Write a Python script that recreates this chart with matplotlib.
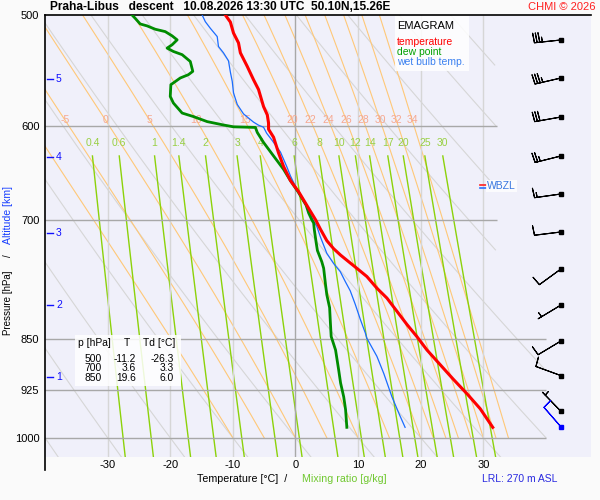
import numpy as np
import matplotlib
matplotlib.use("Agg")
import matplotlib.pyplot as plt
from matplotlib.patches import Rectangle
from matplotlib.lines import Line2D
from matplotlib.ticker import NullLocator

plt.rcParams['font.family'] = ['Liberation Sans', 'DejaVu Sans']

W, H = 600, 500

# sounding: pressure [hPa] / temperature [C]
t_pres = [500, 505.8, 515, 523.4, 532, 544, 556, 565, 581, 589, 597, 603, 611, 627, 641, 656,
          668, 683, 699.4, 710.6, 723.8, 733.5, 741.2, 749.3, 757.4, 767.7, 782.5, 795.3, 812.7,
          830.5, 847.3, 866, 887, 908.5, 930.5, 953.5, 983]
t_temp = [-11.2, -10.4, -9.9, -9.1, -8.8, -7.7, -6.7, -5.9, -5.1, -4.5, -4.3, -4.3, -3.5, -2.7, -1.9, -0.8,
          0.5, 1.8, 3.2, 4.0, 5.0, 6.1, 7.2, 8.5, 9.8, 11.4, 13.0, 14.6, 16.2,
          17.8, 19.4, 21.0, 23.1, 25.2, 27.4, 29.5, 31.5]

td_pres = [500, 502.7, 507.4, 509, 511.8, 513.8, 517.4, 520.8, 525, 527.9, 530.8, 533.6, 539.6, 548.4,
           551.4, 554.4, 560.5, 571.4, 577.6, 587.2, 590.6, 595.5, 598.8, 600.6, 601.2, 606.2, 616.2,
           630, 644, 655, 668, 683, 691.7, 699.4, 703.2, 710.6, 726, 735.6, 749.3, 757.4, 778.2,
           790.8, 807.9, 825.8, 847, 866, 895, 914, 935, 955, 983]
td_temp = [-26.1, -25.6, -24.8, -23.7, -22.4, -20.8, -19.7, -18.9, -19.7, -20.5, -19.5, -18.1, -16.8, -16.4,
           -17.1, -18.4, -19.9, -20.0, -19.5, -18.1, -16.3, -14.1, -11.5, -9.9, -6.4, -6.1, -5.1,
           -3.5, -1.9, -0.9, 0.4, 1.7, 2.1, 2.6, 2.9, 3.0, 3.3, 3.5, 4.2, 4.5, 4.8,
           5.0, 5.45, 5.56, 5.7, 6.4, 6.9, 7.2, 7.7, 8.0, 8.2]

tw_pres = [500, 505.5, 511, 518, 526.5, 532, 539, 549, 557.5, 568, 579, 588, 596, 599, 601, 607, 613.5,
           626, 641, 651, 668, 683, 699.4, 707, 719, 739, 751.6, 761.5, 774, 786, 803.6, 823.5, 842,
           849.5, 875, 900, 935, 965, 983]
tw_temp = [-14.9, -14.4, -13.6, -12.5, -12.3, -11.5, -10.7, -10.4, -10.1, -9.9, -9.3, -8.3, -6.7, -5.9, -5.1,
           -4.6, -3.8, -2.4, -1.4, -0.8, 0.4, 1.7, 2.8, 3.4, 3.96, 5.0, 6.1, 7.15, 7.95, 8.75, 9.55,
           10.35, 11.15, 11.4, 13.0, 14.1, 15.4, 16.7, 17.5]

tab_p = [500, 700, 850]
tab_t = [-11.2, 3.6, 19.6]
tab_td = [-26.3, 3.3, 6.0]

# winds every 0.5 km, speed in kt
wind_pres = [520.9, 554.4, 591.0, 630.0, 670.5, 713.6, 758.2, 804.4, 853.2, 903.1, 957.7]
wind_dir = [264, 257, 260, 256, 262, 263, 234, 239, 239, 290, 316]
wind_spd = [35, 35, 30, 25, 15, 10, 10, 5, 10, 10, 5]
sfc_pres = [983.1]
sfc_dir = [319]
sfc_spd = [10]

alt_km = [1, 2, 3, 4, 5]
alt_pres = [905, 804, 715, 631, 555]
wbzl_pres = 662

p_ticks = [500, 600, 700, 850, 925, 1000]
t_ticks = [-30, -20, -10, 0, 10, 20, 30]
theta_dry = list(range(-60, 160, 10))
theta_w = [-10, -5, 0, 5, 10, 15, 20, 22, 24, 26, 28, 30, 32, 34]
mix_ratio = [0.4, 0.6, 1, 1.4, 2, 3, 4, 6, 8, 10, 12, 14, 17, 20, 25, 30]
mix_labels = ['0.4', '0.6', '1', '1.4', '2', '3', '4', '6', '8', '10', '12', '14', '17', '20', '25', '30']


def es(tc):
    return 6.112 * np.exp(17.67 * tc / (tc + 243.5))


def lapse(tk, p):
    e = es(tk - 273.15)
    rs = 0.622 * e / (p - e)
    lv = 2.501e6
    return (287.04 * tk + lv * rs) / p / (1005.7 + lv * lv * rs * 0.622 / (287.04 * tk ** 2))


def moist(tw, pres):
    t = tw + 273.15
    out = [t]
    for i in range(1, len(pres)):
        dp = pres[i] - pres[i - 1]
        k1 = lapse(t, pres[i - 1])
        k2 = lapse(t + k1 * dp, pres[i])
        t = t + 0.5 * (k1 + k2) * dp
        out.append(t)
    return np.array(out) - 273.15


def clip(t, p):
    t = np.array(t, dtype=float)
    lim = np.where(p < 820, 32.1, 40.0)
    t[t > lim] = np.nan
    return t


def px2t(px):
    return (px - 295.5) / 6.262


fig = plt.figure(figsize=(6, 5), dpi=100, facecolor='#fafafa')
ax = fig.add_axes([45 / W, 43 / H, 546 / W, 442 / H])
ax.set_facecolor('#f0f0fa')
ax.set_yscale('log')
ax.set_ylim(1032, 500)
ax.set_xlim(-40, 47.19)

# dry adiabats
pp = np.linspace(1032, 500, 300)
for th in theta_dry:
    t = (th + 273.15) * (pp / 1000.0) ** 0.2857 - 273.15
    ax.plot(clip(t, pp), pp, color='#d6d6d6', lw=0.8, zorder=1)

# pseudo-adiabats
pm = np.linspace(1000, 500, 251)
for tw in theta_w:
    t = moist(tw, pm)
    ax.plot(clip(t, pm), pm, color='#ffc878', lw=0.8, zorder=1.2)
    if tw >= -5:
        tl = np.interp(594, pm[::-1], t[::-1])
        ax.text(tl, 594, str(tw), color='#f6a890', fontsize=7.5, ha='center', va='center', zorder=2)

# mixing ratio lines
pw = np.linspace(630, 1032, 120)
for w, lab in zip(mix_ratio, mix_labels):
    e = w * pw / (622.0 + w)
    l = np.log(e / 6.112)
    t = 243.5 * l / (17.67 - l)
    ax.plot(t, pw, color='#8cd20a', lw=1.0, zorder=1.4)
    ax.text(t[0], 617, lab, color='#99d044', fontsize=7.5, ha='center', va='center', zorder=2)

# grid
for p in p_ticks[1:]:
    ax.hlines(p, -40, 32.1 if p < 800 else 40.0, color='#a8a8a8', lw=1.0, zorder=1.6)
for t in t_ticks:
    ax.vlines(t, 500, 1032, color='#a8a8a8' if t == 0 else '#d6d6d6', lw=1.0, zorder=1.5)

# profiles
ax.plot(tw_temp, tw_pres, color='#1a6cff', lw=0.9, zorder=3)
ax.plot(td_temp, td_pres, color='#008c00', lw=2.0, zorder=3.1)
ax.plot(t_temp, t_pres, color='#ff0000', lw=2.2, zorder=3.2)

# altitude ticks
for a, p in zip(alt_km, alt_pres):
    ax.plot([px2t(47), px2t(53)], [p, p], color='#1010ff', lw=1.0, zorder=4)
    ax.text(px2t(56), p, str(a), color='#1010ff', fontsize=7.5, ha='left', va='center', zorder=4)

# WBZL
ax.plot([px2t(480), px2t(486)], [wbzl_pres * 0.998, wbzl_pres * 0.998], color='#ff2020', lw=1.2, zorder=4)
ax.plot([px2t(480), px2t(486)], [wbzl_pres * 1.003, wbzl_pres * 1.003], color='#2a70ff', lw=1.2, zorder=4)
ax.text(px2t(487), wbzl_pres, 'WBZL', color='#3a78e0', fontsize=7.5, ha='left', va='center', zorder=4,
        bbox=dict(facecolor='white', edgecolor='none', alpha=0.8, pad=0.6))

# wind barbs
xb = px2t(561)
d = np.radians(wind_dir)
u = -np.array(wind_spd) * np.sin(d)
v = -np.array(wind_spd) * np.cos(d)
bs = dict(spacing=0.1, height=0.36, width=0.06)
ax.barbs(np.full(len(wind_pres), xb), wind_pres, u, v, length=6.2, pivot='tip', sizes=bs,
         barbcolor='k', linewidth=0.8, zorder=6, clip_on=False)
ax.plot(np.full(len(wind_pres), xb), wind_pres, 's', color='k', ms=2.5, zorder=7)
ds = np.radians(sfc_dir)
ax.barbs([xb], sfc_pres, -np.array(sfc_spd) * np.sin(ds), -np.array(sfc_spd) * np.cos(ds), length=6.2,
         pivot='tip', sizes=bs, barbcolor='#0000ff', linewidth=0.8, zorder=6, clip_on=False)
ax.plot([xb], sfc_pres, 's', color='#0000ff', ms=2.5, zorder=7)

# axes
ax.set_yticks(p_ticks)
ax.set_yticklabels([str(p) for p in p_ticks])
ax.yaxis.set_minor_locator(NullLocator())
ax.set_xticks(t_ticks)
ax.set_xticklabels([str(t) for t in t_ticks])
ax.tick_params(axis='both', length=0, labelsize=8)
ax.tick_params(axis='y', pad=4)
ax.tick_params(axis='x', pad=2)
for s in ['left', 'right', 'bottom']:
    ax.spines[s].set_visible(False)
ax.spines['top'].set_color('k')
ax.spines['top'].set_linewidth(1.2)
fig.add_artist(Line2D([45 / W, 45 / W], [1 - 15 / H, 1 - 470 / H], color='k', lw=1.2))

# legend box
fig.add_artist(Rectangle((395 / W, 1 - 71 / H), 74 / W, 55 / H, transform=fig.transFigure,
                         facecolor='white', edgecolor='none', alpha=0.85, zorder=5))
fig.text(397 / W, 1 - 26 / H, 'EMAGRAM', fontsize=8, va='center', zorder=6)
fig.text(397 / W, 1 - 42 / H, 'temperature', fontsize=7.5, color='#ff0000', va='center', zorder=6)
fig.text(397 / W, 1 - 52 / H, 'dew point', fontsize=7.5, color='#00a000', va='center', zorder=6)
fig.text(397 / W, 1 - 62 / H, 'wet bulb temp.', fontsize=7.5, color='#3a80f0', va='center', zorder=6)

# table
fig.add_artist(Rectangle((75 / W, 1 - 386 / H), 106 / W, 51 / H, transform=fig.transFigure,
                         facecolor='white', edgecolor='none', alpha=0.85, zorder=5))
fig.text(78 / W, 1 - 343 / H, 'p [hPa]', fontsize=7.4, va='center', zorder=6)
fig.text(127 / W, 1 - 343 / H, 'T', fontsize=7.4, va='center', ha='center', zorder=6)
fig.text(143 / W, 1 - 343 / H, 'Td [°C]', fontsize=7.4, va='center', zorder=6)
for i in range(len(tab_p)):
    y = 1 - (358.5 + 9.8 * i) / H
    fig.text(102 / W, y, str(tab_p[i]), fontsize=7.4, va='center', ha='right', zorder=6)
    fig.text(136 / W, y, f'{tab_t[i]:.1f}', fontsize=7.4, va='center', ha='right', zorder=6)
    fig.text(174 / W, y, f'{tab_td[i]:.1f}', fontsize=7.4, va='center', ha='right', zorder=6)

# titles and labels
fig.text(50 / W, 1 - 7 / H, 'Praha-Libus   descent   10.08.2026 13:30 UTC  50.10N,15.26E',
         fontsize=8.6, fontweight='bold', va='center', ha='left')
fig.text(596 / W, 1 - 7 / H, 'CHMI © 2026', fontsize=8, color='#ff2020', va='center', ha='right')
fig.text(197 / W, 1 - 479 / H, 'Temperature [°C]  /', fontsize=7.7, va='center')
fig.text(302 / W, 1 - 479 / H, 'Mixing ratio [g/kg]', fontsize=7.7, color='#70c830', va='center')
fig.text(482 / W, 1 - 479 / H, 'LRL: 270 m ASL', fontsize=7.5, color='#2a2ae0', va='center')
fig.text(8 / W, 1 - 303 / H, 'Pressure [hPa]', fontsize=7, rotation=90, ha='center', va='center')
fig.text(8 / W, 1 - 256 / H, '/', fontsize=7, rotation=90, ha='center', va='center')
fig.text(8 / W, 1 - 215 / H, 'Altitude [km]', fontsize=7.6, rotation=90, ha='center', va='center',
         color='#1a40ff')

fig.savefig('out.png', dpi=100, facecolor=fig.get_facecolor())
